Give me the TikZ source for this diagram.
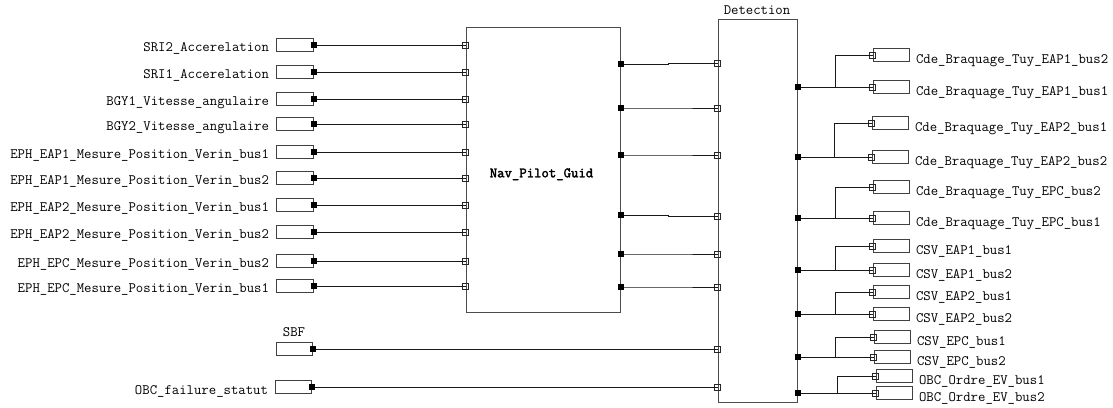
\documentclass[tikz,border=0pt]{standalone}
\usepackage{fontspec}
\newfontfamily\navmono{Latin Modern Mono}[FakeBold=2.2]
\usetikzlibrary{calc}
\begin{document}
\begin{tikzpicture}[x=1bp,y=-1bp,line width=1bp,
  lbl/.style={font=\ttfamily\fontsize{14.35bp}{16bp}\selectfont,inner sep=0pt},
  boldlbl/.style={font=\navmono\fontsize{14.35bp}{16bp}\selectfont,inner sep=0pt},
  iobox/.style={draw=black!75,minimum width=37bp,minimum height=13bp,inner sep=0pt},
  block/.style={draw=black!70,inner sep=0pt},
  outport/.style={fill=black,minimum size=6bp,inner sep=0pt},
  inport/.style={draw=black!85,line width=0.8bp,minimum size=6bp,inner sep=0pt},
  wire/.style={draw=black!90}]

\fill[white] (0,0) rectangle (1113,407);
\useasboundingbox (0,0) rectangle (1113,407);

% main blocks
\node[block,minimum width=154bp,minimum height=285bp] (nav) at (543,169.5) {};
\node[boldlbl,anchor=base] (navl) at ($(nav.center)+(-1.5,7.8)$) {Nav\_Pilot\_Guid};
\node[block,minimum width=79bp,minimum height=383bp] (det) at (757.5,210.5) {};
\node[lbl,anchor=base] (detl) at (757,14) {Detection};

% sources feeding the guidance block
\foreach \i/\y/\t in {
  1/45/SRI2\_Accerelation,
  2/72/SRI1\_Accerelation,
  3/99/BGY1\_Vitesse\_angulaire,
  4/124/BGY2\_Vitesse\_angulaire,
  5/152/EPH\_EAP1\_Mesure\_Position\_Verin\_bus1,
  6/178/EPH\_EAP1\_Mesure\_Position\_Verin\_bus2,
  7/205/EPH\_EAP2\_Mesure\_Position\_Verin\_bus1,
  8/232/EPH\_EAP2\_Mesure\_Position\_Verin\_bus2,
  9/261/EPH\_EPC\_Mesure\_Position\_Verin\_bus2,
  10/286/EPH\_EPC\_Mesure\_Position\_Verin\_bus1}{
  \node[iobox] (src\i) at (294.5,\y) {};
  \node[lbl,anchor=base east] (srcl\i) at ($(src\i.west)+(-6,6.5)$) {\t};
  \node[inport] (navin\i) at (nav.west |- src\i) {};
  \draw[wire] (src\i.east) -- (navin\i.center);
  \node[outport] (srcp\i) at (src\i.east) {};
}

% sources feeding the detection block
\node[iobox,minimum width=36bp] (sbf) at (294,349) {};
\node[lbl,anchor=base] (sbfl) at ($(sbf.north)+(0,-5.7)$) {SBF};
\node[iobox,minimum width=36bp] (obc) at (293,387) {};
\node[lbl,anchor=base east] (obcl) at ($(obc.west)+(-6,7)$) {OBC\_failure\_statut};
\node[inport] (detinS) at (det.west |- sbf) {};
\node[inport] (detinO) at (det.west |- obc) {};
\draw[wire] (sbf.east) -- (detinS.center);
\draw[wire] (obc.east) -- (detinO.center);
\node[outport] (sbfp) at (sbf.east) {};
\node[outport] (obcp) at (obc.east) {};

% guidance outputs to detection inputs
\foreach \i/\yo/\yi in {1/64/63,2/108/108,3/155/155,4/215/216,5/254/254,6/287/287}{
  \node[outport] (navout\i) at (nav.east |- 0,\yo) {};
  \node[inport] (detin\i) at (det.west |- 0,\yi) {};
  \coordinate (jog\i) at (668,\yi);
  \draw[wire] (navout\i.center) -| (jog\i) |- (detin\i.center);
  \node[outport] at (navout\i) {};
}

% detection outputs, each split to two sinks
\foreach \i/\ya/\yb/\xl/\xb/\ta/\tb in {
  1/55/87/873/835/Cde\_Braquage\_Tuy\_EAP1\_bus2/Cde\_Braquage\_Tuy\_EAP1\_bus1,
  2/123/157/872/834/Cde\_Braquage\_Tuy\_EAP2\_bus1/Cde\_Braquage\_Tuy\_EAP2\_bus2,
  3/187/218/873/835/Cde\_Braquage\_Tuy\_EPC\_bus2/Cde\_Braquage\_Tuy\_EPC\_bus1,
  4/246/270/873/835/CSV\_EAP1\_bus1/CSV\_EAP1\_bus2,
  5/292/314/873/835/CSV\_EAP2\_bus1/CSV\_EAP2\_bus2,
  6/337/357/874/835/CSV\_EPC\_bus1/CSV\_EPC\_bus2,
  7/376/393/876/837/OBC\_Ordre\_EV\_bus1/OBC\_Ordre\_EV\_bus2}{
  \node[outport] (detout\i) at (det.east |- 0,\yb) {};
  \node[iobox,minimum width=36bp] (snkA\i) at (\xl+18,\ya) {};
  \node[iobox,minimum width=36bp] (snkB\i) at (\xl+18,\yb) {};
  \node[inport] (snkAp\i) at (snkA\i.west) {};
  \node[inport] (snkBp\i) at (snkB\i.west) {};
  \node[lbl,anchor=base west] (snkAl\i) at ($(snkA\i.east)+(6,8.5)$) {\ta};
  \node[lbl,anchor=base west] (snkBl\i) at ($(snkB\i.east)+(6,8.5)$) {\tb};
  \coordinate (br\i) at (\xb,\yb);
  \draw[wire] (detout\i.center) -- (snkBp\i.center);
  \draw[wire] (br\i) |- (snkAp\i.center);
  \node[outport] at (detout\i) {};
}
\end{tikzpicture}
\end{document}
